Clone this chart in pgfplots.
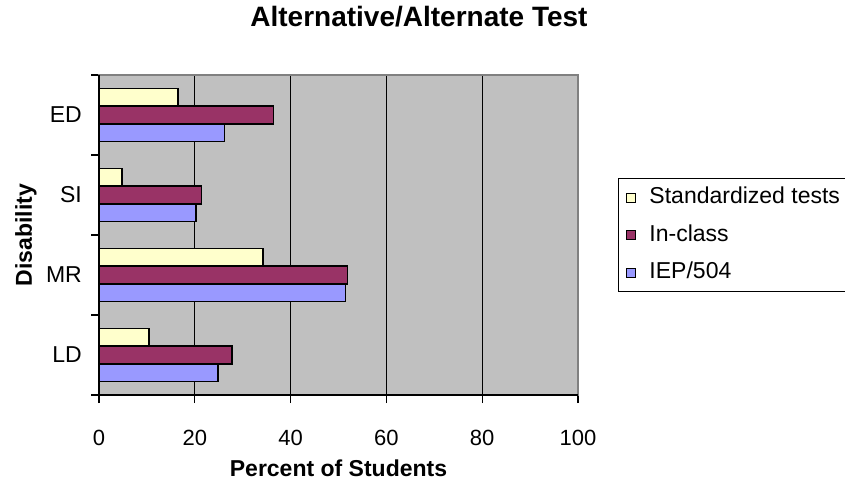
\documentclass[border=0pt]{standalone}
\usepackage{fontspec}
\setmainfont{Liberation Sans}
\usepackage{pgfplots}
\usepackage{pgfplotstable}
\pgfplotsset{compat=1.18}

\definecolor{plotbg}{HTML}{C0C0C0}
\definecolor{stdcol}{HTML}{FFFFCC}
\definecolor{inclass}{HTML}{993366}
\definecolor{iepcol}{HTML}{9999FF}

% cat: 0=LD 1=MR 2=SI 3=ED
\pgfplotstableread{
cat std  inclass iep
0   10.4 27.8    24.8
1   34.2 51.9    51.5
2   4.8  21.4    20.3
3   16.5 36.4    26.2
}\datatable

\pgfplotsset{
  legsq/.style={legend image code/.code={\draw[##1, line width=1bp] (0bp,-4.5bp) rectangle (9bp,4.5bp);}},
}

\begin{document}
\begin{tikzpicture}
\begin{axis}[
  at={(0,0)}, anchor=south west,
  scale only axis, width=479bp, height=320bp,
  clip=false,
  xmin=0, xmax=100, ymin=-0.5, ymax=3.5,
  xtick={0,20,...,100},
  ytick={-0.5,0.5,1.5,2.5,3.5}, yticklabels={},
  extra y ticks={0,1,2,3}, extra y tick labels={LD,MR,SI,ED},
  extra y tick style={major tick length=0pt},
  tick align=outside, tick pos=left, major tick length=8bp,
  tick style={black, line width=1.2bp},
  xmajorgrids, grid style={black, line width=1.2bp},
  axis background/.style={fill=plotbg},
  axis line style={draw=gray, line width=1.2bp},
  /pgf/number format/assume math mode=true,
  xticklabel style={inner sep=0pt, anchor=base, yshift=-42bp, font=\fontsize{22bp}{26bp}\selectfont},
  yticklabel style={inner sep=0pt, anchor=east, xshift=-17bp, font=\fontsize{23bp}{27bp}\selectfont},
  title={Alternative/Alternate Test},
  title style={at={(axis description cs:0.668,1.134)}, anchor=base, font=\bfseries\fontsize{28bp}{32bp}\selectfont},
  xlabel={Percent of Students},
  xlabel style={at={(axis description cs:0.5,-0.255)}, anchor=base, font=\bfseries\fontsize{23bp}{27bp}\selectfont},
  ylabel={Disability},
  ylabel style={at={(axis description cs:-0.1399,0.5)}, anchor=base, font=\bfseries\fontsize{23bp}{27bp}\selectfont},
  reverse legend,
  legend cell align=left,
  legend style={at={(axis description cs:1.0835,0.678)}, anchor=north west,
    draw=black, line width=1bp, fill=white,
    inner xsep=8bp, inner ysep=8bp, row sep=15.5bp, column sep=13bp,
    font=\fontsize{23bp}{27bp}\selectfont,
    nodes={inner sep=0pt, text height=17bp, text depth=5bp}},
]
\addplot[xbar, bar width=0.22, bar shift=-0.22, fill=iepcol, draw=black, line width=1.6bp, legsq]
  table[x=iep, y=cat] {\datatable};
\addlegendentry{IEP/504}
\addplot[xbar, bar width=0.22, bar shift=0, fill=inclass, draw=black, line width=1.6bp, legsq]
  table[x=inclass, y=cat] {\datatable};
\addlegendentry{In-class}
\addplot[xbar, bar width=0.22, bar shift=0.22, fill=stdcol, draw=black, line width=1.6bp, legsq]
  table[x=std, y=cat] {\datatable};
\addlegendentry{Standardized tests}
\draw[black, line width=1.2bp] (rel axis cs:0,1) -- (rel axis cs:0,0) -- (rel axis cs:1,0);
\end{axis}
\pgfresetboundingbox
\path (-99bp,-87bp) rectangle (746bp,395bp);
\end{tikzpicture}
\end{document}
